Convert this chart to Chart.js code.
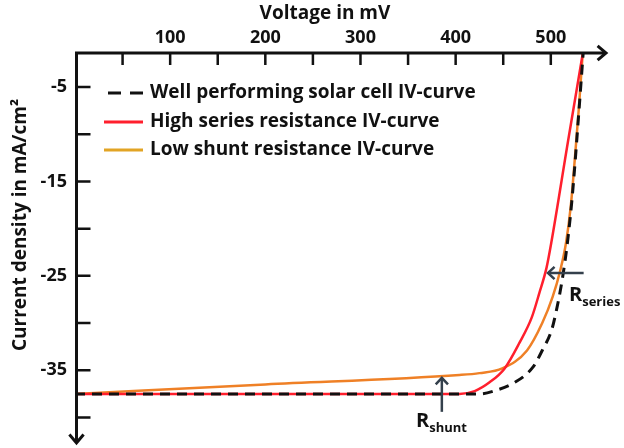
<!DOCTYPE html>
<html>
<head>
<meta charset="utf-8">
<script src="https://cdn.jsdelivr.net/npm/chart.js@4.4.0/dist/chart.umd.min.js"></script>
<style>
  html, body { margin: 0; padding: 0; background: #fff; }
  canvas { display: block; }
</style>
</head>
<body>
<canvas id="ivChart" width="624" height="448"></canvas>
<script>
// IV curves: voltage in mV, current density in mA/cm2
let wellVoltage = [0, 200, 400, 425, 443, 460, 481, 491, 501, 506, 511, 515, 518.5, 522, 525.5, 529, 532, 535];
let wellCurrent = [-37.5, -37.5, -37.5, -37.5, -37.1, -36.4, -34.7, -32.9, -30.7, -28.6, -26.0, -23.4, -20.6, -17.2, -13.0, -8.3, -4.2, 0];

let seriesVoltage = [0, 200, 404, 420, 436, 451.5, 467, 480, 488, 495.6, 500.5, 518, 536];
let seriesCurrent = [-37.5, -37.5, -37.5, -37.2, -36.25, -34.8, -32.1, -29.4, -26.8, -24.1, -21.5, -10.8, 0];

let shuntVoltage = [0, 200, 404, 425, 449, 475, 491, 502, 510, 516, 521, 525.5, 529.5, 534.5];
let shuntCurrent = [-37.5, -36.5, -35.5, -35.3, -34.8, -32.9, -30.0, -27.2, -24.4, -21.5, -17.6, -12.3, -7.2, 0];

let seriesLabels = ["Well performing solar cell IV-curve", "High series resistance IV-curve", "Low shunt resistance IV-curve"];

let xLabelTicks = [100, 200, 300, 400, 500];
let yLabelTicks = [-5, -15, -25, -35];

const FONT = "'Open Sans'";
const INK = "#111111";
const NOTE = "#34404c";

function toPoints(xs, ys) {
  return xs.map((x, i) => ({ x: x, y: ys[i] }));
}

// open chevron arrow head with the tip at (x, y), pointing along angle a
function arrowHead(ctx, x, y, a, len, spread) {
  ctx.beginPath();
  ctx.moveTo(x - len * Math.cos(a - spread), y - len * Math.sin(a - spread));
  ctx.lineTo(x, y);
  ctx.lineTo(x - len * Math.cos(a + spread), y - len * Math.sin(a + spread));
  ctx.stroke();
}

function subLabel(ctx, main, sub, x, y) {
  ctx.textAlign = "left";
  ctx.textBaseline = "alphabetic";
  ctx.font = "bold 20px " + FONT;
  ctx.fillText(main, x, y);
  let w = ctx.measureText(main).width;
  ctx.font = "bold 13px " + FONT;
  ctx.fillText(sub, x + w, y + 5);
}

// axes with inward ticks and arrows, titles, legend and the R annotations
const ivDecor = {
  id: "ivDecor",
  afterDraw(chart) {
    const ctx = chart.ctx;
    const xs = chart.scales.x, ys = chart.scales.y;
    const area = chart.chartArea;
    const ax = area.left + 1.5, ay = area.top;

    ctx.save();
    ctx.strokeStyle = INK;
    ctx.fillStyle = INK;
    ctx.lineCap = "butt";
    ctx.lineWidth = 3;

    // axis lines
    ctx.beginPath();
    ctx.moveTo(ax - 1.5, ay);
    ctx.lineTo(area.right - 1, ay);
    ctx.moveTo(ax, ay - 1.5);
    ctx.lineTo(ax, area.bottom - 1);
    ctx.stroke();
    ctx.lineJoin = "miter";
    arrowHead(ctx, area.right, ay, 0, 11, 0.7);
    arrowHead(ctx, ax, area.bottom, Math.PI / 2, 11, 0.7);

    // tick marks
    ctx.lineWidth = 2.5;
    ctx.beginPath();
    for (let v = 50; v <= 500; v += 50) {
      const px = xs.getPixelForValue(v);
      ctx.moveTo(px, ay);
      ctx.lineTo(px, ay + 12);
    }
    for (let v = -5; v >= -40; v -= 5) {
      const py = ys.getPixelForValue(v);
      ctx.moveTo(ax, py);
      ctx.lineTo(ax + 14, py);
    }
    ctx.stroke();

    // axis titles
    ctx.font = "bold 19px " + FONT;
    ctx.textAlign = "center";
    ctx.textBaseline = "middle";
    ctx.fillText("Voltage in mV", 325, 14);
    ctx.save();
    ctx.translate(21, 225);
    ctx.rotate(-Math.PI / 2);
    ctx.fillText("Current density in mA/cm\u00B2", 0, 0);
    ctx.restore();

    // legend
    const legendY = [93, 122, 150];
    const sample = [
      { color: INK, dash: [13, 9], from: 108 },
      { color: "#ff1f2d", dash: [], from: 104 },
      { color: "#e2a424", dash: [], from: 104 }
    ];
    ctx.font = "bold 19px " + FONT;
    ctx.textAlign = "left";
    ctx.textBaseline = "middle";
    seriesLabels.forEach((label, i) => {
      ctx.strokeStyle = sample[i].color;
      ctx.lineWidth = 3;
      ctx.setLineDash(sample[i].dash);
      ctx.beginPath();
      ctx.moveTo(sample[i].from, legendY[i]);
      ctx.lineTo(143, legendY[i]);
      ctx.stroke();
      ctx.setLineDash([]);
      ctx.fillStyle = INK;
      ctx.fillText(label, 150, legendY[i]);
    });

    // R_series arrow, pointing left onto the curve
    ctx.strokeStyle = NOTE;
    ctx.fillStyle = INK;
    ctx.lineWidth = 2.5;
    const sy = ys.getPixelForValue(-24.7);
    const sx0 = xs.getPixelForValue(534.5), sx1 = xs.getPixelForValue(497);
    ctx.beginPath();
    ctx.moveTo(sx0, sy);
    ctx.lineTo(sx1, sy);
    ctx.stroke();
    arrowHead(ctx, sx1, sy, Math.PI, 9, 0.75);
    subLabel(ctx, "R", "series", 569, 301);

    // R_shunt arrow, pointing up onto the curve
    ctx.strokeStyle = NOTE;
    const hx = xs.getPixelForValue(385.5);
    const hy0 = ys.getPixelForValue(-39.4), hy1 = ys.getPixelForValue(-35.8);
    ctx.beginPath();
    ctx.moveTo(hx, hy0);
    ctx.lineTo(hx, hy1);
    ctx.stroke();
    arrowHead(ctx, hx, hy1, -Math.PI / 2, 9, 0.75);
    subLabel(ctx, "R", "shunt", 416, 427);

    ctx.restore();
  }
};

new Chart(document.getElementById("ivChart"), {
  type: "line",
  data: {
    datasets: [
      {
        label: seriesLabels[0],
        data: toPoints(wellVoltage, wellCurrent),
        borderColor: INK,
        borderWidth: 3,
        borderDash: [10, 7]
      },
      {
        label: seriesLabels[1],
        data: toPoints(seriesVoltage, seriesCurrent),
        borderColor: "#ff1f2d",
        borderWidth: 2.5
      },
      {
        label: seriesLabels[2],
        data: toPoints(shuntVoltage, shuntCurrent),
        borderColor: "#ef8026",
        borderWidth: 2.5
      }
    ]
  },
  options: {
    responsive: false,
    animation: false,
    devicePixelRatio: 1,
    layout: { padding: { top: 0, left: 0, right: 18, bottom: 5 } },
    elements: {
      point: { radius: 0 },
      line: { cubicInterpolationMode: "monotone" }
    },
    plugins: {
      legend: { display: false },
      tooltip: { enabled: false }
    },
    scales: {
      x: {
        type: "linear",
        position: "top",
        min: 0,
        max: 558,
        grid: { display: false, drawTicks: false },
        border: { display: false },
        ticks: {
          stepSize: 50,
          padding: 4,
          autoSkip: false,
          maxRotation: 0,
          color: INK,
          font: { family: FONT, size: 18, weight: "bold" },
          callback: v => (xLabelTicks.includes(v) ? String(v) : "")
        },
        afterFit: s => {
          s.height = 53;
          s.paddingLeft = 0;
          s.paddingRight = 0;
        }
      },
      y: {
        type: "linear",
        min: -42.7,
        max: -1.4,
        grid: { display: false, drawTicks: false },
        border: { display: false },
        ticks: {
          stepSize: 5,
          padding: 8,
          autoSkip: false,
          color: INK,
          font: { family: FONT, size: 18, weight: "bold" },
          callback: v => (yLabelTicks.includes(v) ? String(v) : "")
        },
        afterFit: s => {
          s.width = 75;
          s.paddingTop = 0;
          s.paddingBottom = 0;
        }
      }
    }
  },
  plugins: [ivDecor]
});
</script>
</body>
</html>
